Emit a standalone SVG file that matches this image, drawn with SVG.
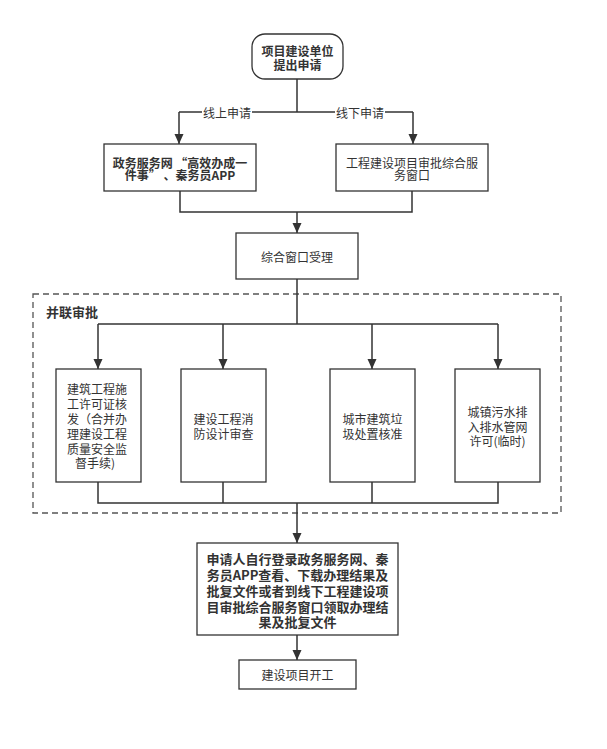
<svg xmlns="http://www.w3.org/2000/svg" width="607" height="749" viewBox="0 0 607 749">
<style>
text{font-family:"Noto Sans CJK SC","Noto Sans",sans-serif;fill:#333;font-size:12px;text-anchor:middle;dominant-baseline:central}
.b{font-weight:bold}
.box{fill:#fff;stroke:#333;stroke-width:1.3}
.ln{fill:none;stroke:#333;stroke-width:1.5}
.arr{marker-end:url(#ah)}
</style>
<defs>
<marker id="ah" markerUnits="userSpaceOnUse" markerWidth="10" markerHeight="12" viewBox="0 0 10 12" refX="10" refY="6" orient="auto">
<path d="M0,1.5 L10,6 L0,10.5 Z" fill="#333"/>
</marker>
</defs>
<rect width="607" height="749" fill="#fff"/>
<g id="group-parallel">
<rect x="33" y="294" width="528" height="219" fill="none" stroke="#555" stroke-width="1.3" stroke-dasharray="6,4"/>
<text x="72" y="311" class="b" style="font-size:13px">并联审批</text>
</g>
<g id="connectors">
<path class="ln" d="M297,79 V112"/>
<path class="ln" d="M179,112 H413"/>
<path class="ln arr" d="M179,112 V144"/>
<path class="ln arr" d="M413,112 V144"/>
<rect x="202" y="104" width="50" height="16" fill="#fff"/>
<text x="227" y="112">线上申请</text>
<rect x="335" y="104" width="50" height="16" fill="#fff"/>
<text x="360" y="112">线下申请</text>
<path class="ln" d="M180,191 V212 H412 V191"/>
<path class="ln arr" d="M297,212 V233"/>
<path class="ln" d="M297,279 V324"/>
<path class="ln" d="M98,324 H498"/>
<path class="ln arr" d="M98,324 V369"/>
<path class="ln arr" d="M223,324 V369"/>
<path class="ln arr" d="M372,324 V369"/>
<path class="ln arr" d="M498,324 V369"/>
<path class="ln" d="M98,482 V503 H498 V482 M223,482 V503 M372,482 V503"/>
<path class="ln arr" d="M297,503 V543"/>
<path class="ln arr" d="M297,635 V660"/>
</g>
<g id="start">
<rect x="252" y="34" width="91" height="45" rx="13" class="box"/>
<text class="b"><tspan x="297.5" y="50">项目建设单位</tspan><tspan x="297.5" y="63.5">提出申请</tspan></text>
</g>
<g id="online">
<rect x="104" y="144" width="152" height="47" class="box"/>
<text class="b"><tspan x="180" y="161.5">政务服务网 “高效办成一</tspan><tspan x="180" y="174">件事” 、秦务员APP</tspan></text>
</g>
<g id="offline">
<rect x="336" y="144" width="152" height="47" class="box"/>
<text><tspan x="412" y="161.5">工程建设项目审批综合服</tspan><tspan x="412" y="174">务窗口</tspan></text>
</g>
<g id="accept">
<rect x="236" y="233" width="122" height="46" class="box"/>
<text x="297" y="256">综合窗口受理</text>
</g>
<g id="permit">
<rect x="56" y="369" width="85" height="113" class="box"/>
<text><tspan x="97" y="388">建筑工程施</tspan><tspan x="97" y="403">工许可证核</tspan><tspan x="97" y="418">发（合并办</tspan><tspan x="97" y="432.5">理建设工程</tspan><tspan x="97" y="447.5">质量安全监</tspan><tspan x="95" y="462">督手续)</tspan></text>
</g>
<g id="fire">
<rect x="181" y="369" width="85" height="113" class="box"/>
<text><tspan x="223.5" y="418">建设工程消</tspan><tspan x="223.5" y="433">防设计审查</tspan></text>
</g>
<g id="waste">
<rect x="330" y="369" width="85" height="113" class="box"/>
<text><tspan x="372.5" y="418">城市建筑垃</tspan><tspan x="372.5" y="433">圾处置核准</tspan></text>
</g>
<g id="sewage">
<rect x="455" y="369" width="85" height="113" class="box"/>
<text><tspan x="497.5" y="411">城镇污水排</tspan><tspan x="497.5" y="425.5">入排水管网</tspan><tspan x="497.5" y="440">许可(临时)</tspan></text>
</g>
<g id="result">
<rect x="197" y="543" width="201" height="92" class="box"/>
<text class="b" style="font-size:13px"><tspan x="297.5" y="557.5">申请人自行登录政务服务网、秦</tspan><tspan x="297.5" y="573.5">务员APP查看、下载办理结果及</tspan><tspan x="297.5" y="589.5">批复文件或者到线下工程建设项</tspan><tspan x="297.5" y="605.5">目审批综合服务窗口领取办理结</tspan><tspan x="297.5" y="621">果及批复文件</tspan></text>
</g>
<g id="start-work">
<rect x="239" y="660" width="117" height="29" class="box"/>
<text x="297.5" y="674.5">建设项目开工</text>
</g>
</svg>
